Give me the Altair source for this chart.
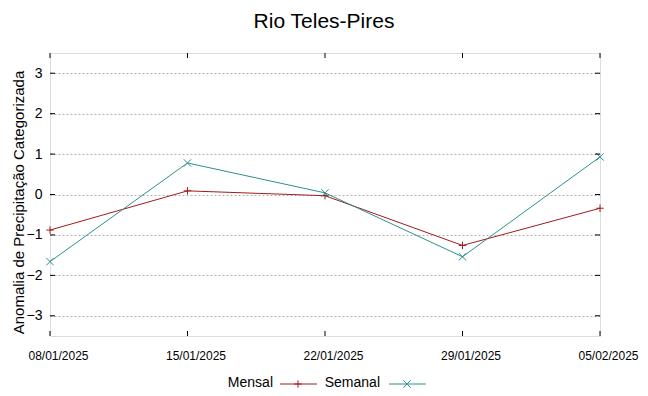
import altair as alt
import pandas as pd

# ---- data ----
dates = ["08/01/2025", "15/01/2025", "22/01/2025", "29/01/2025", "05/02/2025"]
mensal = [-0.88, 0.09, -0.03, -1.26, -0.34]
semanal = [-1.66, 0.78, 0.04, -1.54, 0.93]
series_names = ["Mensal", "Semanal"]
series_colors = ["#a01c1c", "#2e9090"]
y_ticks = [-3, -2, -1, 0, 1, 2, 3]
title_text = "Rio Teles-Pires"
y_title = "Anomalia de Precipitação Categorizada"

W, H = 550, 283
FONT = "Liberation Sans"
PLUS = "M-1,0H1M0,-1V1"
CROSS = "M-1,-1L1,1M-1,1L1,-1"

df = pd.DataFrame({
    "data": dates * 2,
    "valor": mensal + semanal,
    "serie": [series_names[0]] * len(dates) + [series_names[1]] * len(dates),
})

x_enc = alt.X(
    "data:N", sort=dates,
    scale=alt.Scale(type="point", padding=0, domain=dates),
    axis=alt.Axis(title=None, labelAngle=0, labelFont=FONT, labelFontSize=12,
                  labelColor="#000", labelPadding=14, labelOffset=8,
                  ticks=False, domain=False, grid=False),
)
y_enc = alt.Y(
    "valor:Q",
    scale=alt.Scale(domain=[-3.5, 3.5], nice=False, zero=False),
    axis=alt.Axis(values=y_ticks, title=y_title, titleFont=FONT, titleFontSize=15,
                  titleFontWeight="normal", titleColor="#000", titleAngle=270,
                  titleX=-32, titleY=149, titleAlign="center", titleBaseline="middle",
                  labelFont=FONT, labelFontSize=14, labelColor="#000", labelPadding=8,
                  ticks=False, domain=False, grid=True, gridColor="#b0b0b0",
                  gridDash=[2, 2], gridWidth=1),
)
color_enc = alt.Color("serie:N", scale=alt.Scale(domain=series_names, range=series_colors), legend=None)

base = alt.Chart(df)
lines = base.mark_line(strokeWidth=1).encode(x=x_enc, y=y_enc, color=color_enc, detail="serie:N")
points = base.mark_point(filled=False, size=55, strokeWidth=1, opacity=1).encode(
    x=alt.X("data:N", sort=dates),
    y=alt.Y("valor:Q"),
    color=color_enc,
    shape=alt.Shape("serie:N", scale=alt.Scale(domain=series_names, range=[PLUS, CROSS]), legend=None),
)

# inward tick marks (gnuplot style)
ytk = pd.DataFrame({"valor": y_ticks})
left_ticks = alt.Chart(ytk).mark_rule(color="#000", strokeWidth=1).encode(
    y="valor:Q", x=alt.value(0), x2=alt.value(5))
right_ticks = alt.Chart(ytk).mark_rule(color="#000", strokeWidth=1).encode(
    y="valor:Q", x=alt.value(W - 5), x2=alt.value(W))
xtk = pd.DataFrame({"data": dates})
bottom_ticks = alt.Chart(xtk).mark_rule(color="#000", strokeWidth=1).encode(
    x=alt.X("data:N", sort=dates), y=alt.value(H - 5), y2=alt.value(H))
top_ticks = alt.Chart(xtk).mark_rule(color="#000", strokeWidth=1).encode(
    x=alt.X("data:N", sort=dates), y=alt.value(0), y2=alt.value(5))

# title as a text mark above the plot
title_layer = alt.Chart(pd.DataFrame({"t": [title_text]})).mark_text(
    align="center", baseline="alphabetic", font=FONT, fontSize=21, color="#000").encode(
    text="t:N", x=alt.value(274), y=alt.value(-25))

# legend (text left of sample, like gnuplot)
LY = 331
legend_layers = []
leg_specs = [
    (series_names[0], series_colors[0], PLUS, 223, 230, 267, 248),
    (series_names[1], series_colors[1], CROSS, 330, 339, 376, 357),
]
for name, col, shp, tx, l0, l1, mx in leg_specs:
    one = pd.DataFrame({"t": [name]})
    legend_layers.append(alt.Chart(one).mark_text(
        align="right", baseline="middle", font=FONT, fontSize=14, color="#000").encode(
        text="t:N", x=alt.value(tx), y=alt.value(LY - 1)))
    legend_layers.append(alt.Chart(one).mark_rule(color=col, strokeWidth=1).encode(
        x=alt.value(l0), x2=alt.value(l1), y=alt.value(LY)))
    legend_layers.append(alt.Chart(one).mark_point(
        shape=shp, filled=False, size=55, strokeWidth=1, color=col, opacity=1).encode(
        x=alt.value(mx), y=alt.value(LY)))

chart = alt.layer(
    lines, points, left_ticks, right_ticks, bottom_ticks, top_ticks, title_layer, *legend_layers
).properties(
    width=W, height=H,
    padding={"left": 42, "top": 45, "right": 40, "bottom": 58},
    autosize="none",
).configure_view(stroke="#6a6a6a", strokeWidth=1.5).configure(background="white")

chart.save("out.html", embed_options={"renderer": "svg", "actions": False})
